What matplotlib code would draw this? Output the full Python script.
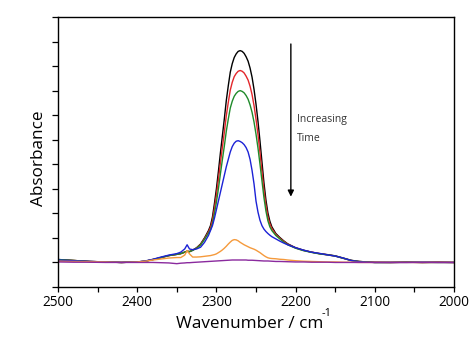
import matplotlib
matplotlib.use("Agg")
import matplotlib.pyplot as plt
from matplotlib.ticker import MultipleLocator

plt.rcParams['font.family'] = ['Open Sans', 'DejaVu Sans']

# wavenumber grid (cm-1), finer across the band
wn = [2500, 2480, 2460, 2440, 2420, 2400, 2390, 2380, 2370, 2360,
      2350, 2345, 2340, 2337, 2334, 2330, 2325, 2320, 2315,
      2310, 2307.5, 2305, 2302.5, 2300, 2297.5, 2295, 2292.5, 2290, 2287.5,
      2285, 2282.5, 2280, 2277.5, 2275, 2272.5, 2270, 2267.5, 2265, 2262.5,
      2260, 2257.5, 2255, 2252.5, 2250, 2247.5, 2245, 2242.5, 2240, 2237.5,
      2235, 2232.5, 2230,
      2225, 2220, 2215, 2210, 2200, 2190, 2180, 2170, 2160, 2150,
      2140, 2130, 2120, 2110, 2100, 2080, 2060, 2040, 2020, 2000]

abs_black = [0.12, 0.08, 0.04, 0.02, 0.00, 0.02, 0.05, 0.12, 0.20, 0.28,
             0.33, 0.36, 0.42, 0.45, 0.44, 0.50, 0.60, 0.75, 1.00,
             1.30, 1.50, 1.85, 2.40, 3.00, 3.70, 4.45, 5.15, 5.85, 6.60,
             7.20, 7.75, 8.10, 8.35, 8.50, 8.60, 8.63, 8.60, 8.52, 8.38,
             8.20, 7.92, 7.55, 7.05, 6.45, 5.75, 4.95, 4.10, 3.25, 2.55,
             2.02, 1.68, 1.45,
             1.18, 1.02, 0.88, 0.76, 0.60, 0.50, 0.42, 0.36, 0.32, 0.27,
             0.18, 0.09, 0.04, 0.02, 0.00, 0.00, 0.01, 0.00, 0.01, 0.00]

abs_red = [0.11, 0.08, 0.04, 0.02, 0.00, 0.02, 0.05, 0.12, 0.20, 0.28,
           0.33, 0.36, 0.42, 0.46, 0.44, 0.50, 0.59, 0.73, 0.97,
           1.25, 1.42, 1.72, 2.20, 2.75, 3.38, 4.05, 4.68, 5.30, 5.98,
           6.52, 7.02, 7.34, 7.57, 7.70, 7.79, 7.82, 7.79, 7.72, 7.59,
           7.43, 7.18, 6.84, 6.39, 5.84, 5.21, 4.48, 3.71, 2.95, 2.33,
           1.86, 1.57, 1.38,
           1.14, 0.99, 0.86, 0.74, 0.59, 0.49, 0.42, 0.36, 0.31, 0.26,
           0.17, 0.08, 0.04, 0.02, 0.01, 0.00, 0.01, 0.00, 0.01, 0.00]

abs_green = [0.12, 0.08, 0.04, 0.02, 0.00, 0.02, 0.05, 0.12, 0.20, 0.28,
             0.33, 0.36, 0.42, 0.46, 0.44, 0.49, 0.58, 0.71, 0.94,
             1.20, 1.33, 1.58, 2.00, 2.45, 3.00, 3.60, 4.18, 4.74, 5.35,
             5.84, 6.29, 6.57, 6.77, 6.89, 6.97, 7.00, 6.97, 6.91, 6.80,
             6.65, 6.42, 6.12, 5.72, 5.23, 4.66, 4.01, 3.33, 2.65, 2.10,
             1.70, 1.45, 1.30,
             1.10, 0.96, 0.83, 0.72, 0.58, 0.48, 0.41, 0.35, 0.31, 0.26,
             0.17, 0.08, 0.04, 0.02, 0.00, 0.00, 0.01, 0.00, 0.00, 0.00]

abs_blue = [0.10, 0.07, 0.04, 0.02, 0.00, 0.02, 0.06, 0.13, 0.22, 0.30,
            0.36, 0.42, 0.55, 0.72, 0.55, 0.52, 0.55, 0.62, 0.82,
            1.10, 1.30, 1.50, 1.80, 2.15, 2.50, 2.85, 3.20, 3.55, 3.90,
            4.20, 4.50, 4.72, 4.86, 4.94, 4.96, 4.93, 4.88, 4.80, 4.68,
            4.50, 4.20, 3.75, 3.20, 2.50, 2.05, 1.72, 1.50, 1.36, 1.26,
            1.18, 1.11, 1.05,
            0.96, 0.87, 0.79, 0.72, 0.60, 0.50, 0.42, 0.37, 0.31, 0.26,
            0.18, 0.08, 0.03, 0.01, 0.00, 0.00, 0.00, 0.01, 0.00, 0.00]

abs_orange = [0.05, 0.04, 0.03, 0.02, 0.00, 0.02, 0.05, 0.10, 0.14, 0.18,
              0.20, 0.20, 0.30, 0.48, 0.35, 0.22, 0.22, 0.23, 0.25,
              0.27, 0.28, 0.30, 0.32, 0.35, 0.40, 0.45, 0.51, 0.58, 0.66,
              0.75, 0.83, 0.90, 0.93, 0.92, 0.88, 0.82, 0.77, 0.72, 0.68,
              0.64, 0.60, 0.57, 0.54, 0.50, 0.45, 0.40, 0.34, 0.28, 0.23,
              0.19, 0.17, 0.16,
              0.15, 0.13, 0.12, 0.10, 0.07, 0.05, 0.04, 0.03, 0.02, 0.02,
              0.01, 0.01, 0.00, 0.00, 0.00, 0.00, 0.00, 0.00, 0.00, 0.00]

abs_purple = [0.02, 0.01, 0.01, 0.00, 0.00, 0.00, 0.00, 0.00, -0.01, -0.02,
              -0.05, -0.03, -0.02, -0.01, -0.01, 0.00, 0.01, 0.02, 0.03,
              0.04, 0.045, 0.05, 0.055, 0.06, 0.065, 0.07, 0.075, 0.08, 0.085,
              0.09, 0.095, 0.10, 0.10, 0.10, 0.10, 0.10, 0.10, 0.10, 0.10,
              0.09, 0.09, 0.09, 0.085, 0.08, 0.075, 0.07, 0.065, 0.06, 0.06,
              0.06, 0.055, 0.05,
              0.04, 0.04, 0.035, 0.03, 0.02, 0.02, 0.01, 0.01, 0.01, 0.00,
              0.00, 0.00, 0.00, 0.00, 0.00, 0.00, 0.00, 0.00, 0.00, 0.00]

spectra = [(abs_black, 'black'), (abs_red, '#e3262b'), (abs_green, '#1f8a2a'),
           (abs_blue, '#1c22d6'), (abs_orange, '#f59a3c'), (abs_purple, '#8a2a9e')]

fig = plt.figure(figsize=(4.74, 3.38), dpi=100)
ax = fig.add_axes([0.1224, 0.1509, 0.8354, 0.7988])

for ys, c in spectra:
    ax.plot(wn, ys, color=c, linewidth=1.0)

ax.set_xlim(2500, 2000)
ax.set_ylim(-1, 10)

ax.xaxis.set_major_locator(MultipleLocator(100))
ax.xaxis.set_minor_locator(MultipleLocator(50))
ax.yaxis.set_major_locator(MultipleLocator(1))
ax.set_yticklabels([])
ax.tick_params(axis='x', which='both', direction='out', length=3.5, width=0.9,
               labelsize=9.8, pad=2, top=False)
ax.tick_params(axis='y', which='both', direction='out', length=4, width=0.9,
               right=False)
for s in ax.spines.values():
    s.set_linewidth(1.0)

ax.set_xlabel('Wavenumber / cm', fontsize=12.3)
ax.set_ylabel('Absorbance', fontsize=12.3)
ax.xaxis.set_label_coords(0.4836, -0.107)
ax.yaxis.set_label_coords(-0.027, 0.476)
fig.text(327 / 474, 1 - 313 / 338, '-1', fontsize=8, ha='center', va='center')

# arrow showing the time trend
ax.annotate('', xy=(2206, 2.68), xytext=(2206, 8.9),
            arrowprops=dict(arrowstyle='-|>', color='black', lw=1.0,
                            mutation_scale=9, shrinkA=0, shrinkB=0))
ax.text(2198, 5.81, 'Increasing', fontsize=7.5, color='#333333', va='center')
ax.text(2198, 5.04, 'Time', fontsize=7.5, color='#333333', va='center')

fig.savefig('out.png', dpi=100)
